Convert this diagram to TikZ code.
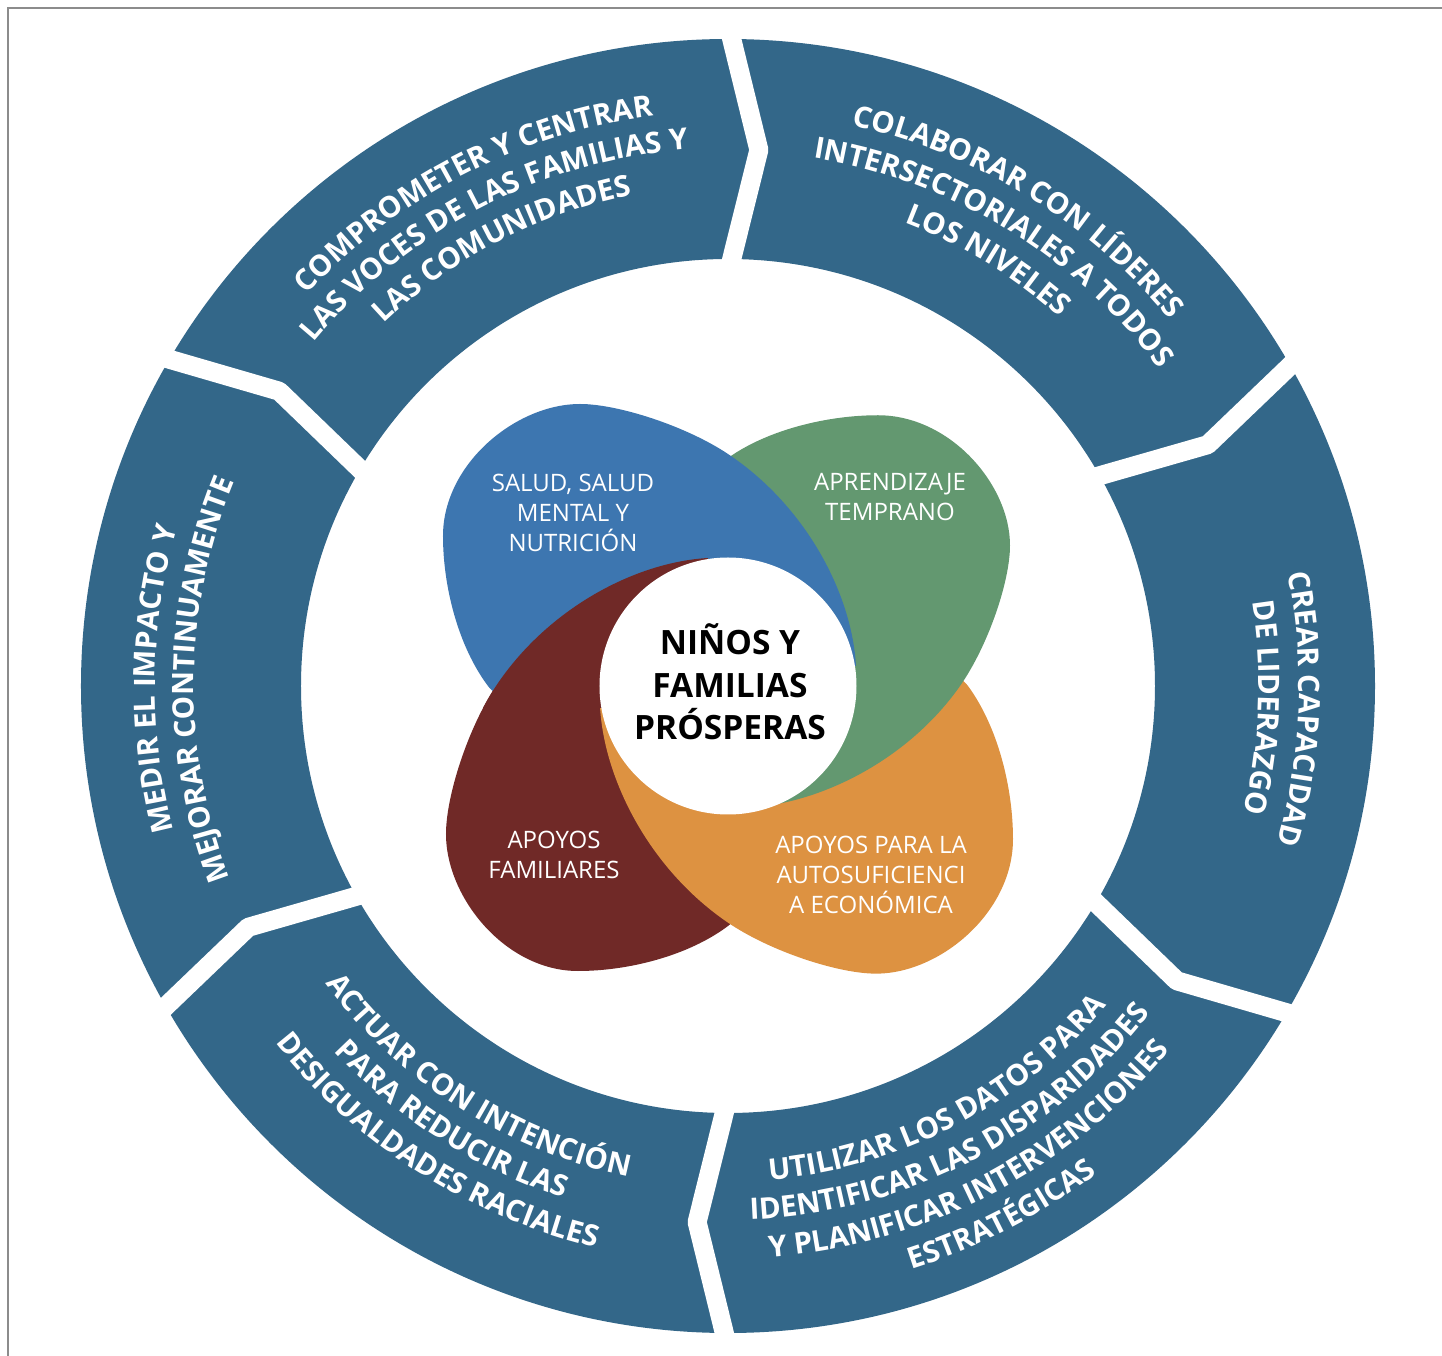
\documentclass[tikz,border=0pt]{standalone}
\usepackage{fontspec}
\setmainfont{Open Sans}
\newfontfamily\osans{Open Sans}
\usetikzlibrary{decorations.text}
\definecolor{ringc}{HTML}{336789}
\definecolor{pblue}{HTML}{3D76B0}
\definecolor{pgreen}{HTML}{639870}
\definecolor{porange}{HTML}{DD9241}
\definecolor{pred}{HTML}{702927}
\definecolor{framec}{HTML}{8C8C8C}
\newcommand\segfont{\osans\bfseries\fontsize{29.5pt}{30pt}\selectfont}
\newcommand\cwtext[3]{\path[decorate,decoration={text along path,text align=center,text color=white,text={|\segfont|#3}}] ({#1+45}:#2) arc[start angle={#1+45}, end angle={#1-45}, radius=#2];}
\newcommand\ccwtext[3]{\path[decorate,decoration={text along path,text align=center,text color=white,text={|\segfont|#3}}] ({#1-45}:#2) arc[start angle={#1-45}, end angle={#1+45}, radius=#2];}
\tikzset{
  petalshape/.style={insert path={(128,20) .. controls (124,92) and (78,180) .. (0,232)
     .. controls (-42,260) and (-110,282) .. (-148,282)
     .. controls (-212,282) and (-285,222) .. (-285,150)
     .. controls (-285,100) and (-270,40) .. (-240,0)
     .. controls (-222,-24) and (-160,-25) .. (-90,5)
     .. controls (-20,35) and (90,25) .. (128,20) -- cycle}},
  petallabel/.style={text=white, align=center, inner sep=0pt, anchor=base, font=\osans\fontsize{24pt}{30pt}\selectfont},
  gapline/.style={white, line width=19pt, line join=round}
}
\begin{document}
\begin{tikzpicture}[x=1pt,y=1pt]
\useasboundingbox (-728,-670) rectangle (714,686);
\fill[white] (-728,-670) rectangle (714,686);
\draw[framec, line width=1.2pt] (-720,-672) -- (-720,678) -- (716,678);
% ring
\fill[ringc, even odd rule] (0,0) circle[radius=647] (0,0) circle[radius=427];
\foreach \g in {90,30,-30,-90,-150,150}
  \draw[gapline] (\g:662) -- ({\g-3.3}:537) -- (\g:412);
% ring texts
\cwtext{117.3}{575}{COMPROMETER Y CENTRAR}
\cwtext{117.3}{538}{LAS VOCES DE LAS FAMILIAS Y}
\cwtext{117.3}{500}{LAS COMUNIDADES}
\cwtext{58.6}{574}{COLABORAR CON LÍDERES}
\cwtext{58.6}{535}{INTERSECTORIALES A TODOS}
\cwtext{58.6}{496}{LOS NIVELES}
\cwtext{-2.3}{571}{CREAR CAPACIDAD}
\cwtext{-2.3}{531}{DE LIDERAZGO}
\cwtext{179.3}{573}{MEDIR EL IMPACTO Y}
\cwtext{179.3}{534}{MEJORAR CONTINUAMENTE}
\ccwtext{-62.7}{495.5}{UTILIZAR LOS DATOS PARA}
\ccwtext{-62.7}{534}{IDENTIFICAR LAS DISPARIDADES}
\ccwtext{-62.7}{572.5}{Y PLANIFICAR INTERVENCIONES}
\ccwtext{-62.7}{611.5}{ESTRATÉGICAS}
\ccwtext{237.5}{500.5}{ACTUAR CON INTENCIÓN}
\ccwtext{237.5}{537.5}{PARA REDUCIR LAS}
\ccwtext{237.5}{576.5}{DESIGUALDADES RACIALES}
% petals
\fill[pred, rotate=90, petalshape];
\fill[porange, rotate=180, yscale=1.02, petalshape];
\fill[pgreen, rotate=-90, xscale=0.95, petalshape];
\fill[pblue, petalshape];
\begin{scope}
  \clip (-420,-22) rectangle (0,420);
  \fill[pred, rotate=90, petalshape];
\end{scope}
\fill[white] (0,0) circle[radius=128.5];
\node[petallabel] (health) at (-155,134) {SALUD, SALUD\\MENTAL Y\\NUTRICIÓN};
\node[petallabel] (early) at (162,165.4) {APRENDIZAJE\\TEMPRANO};
\node[petallabel] (family) at (-174,-193) {APOYOS\\FAMILIARES};
\node[petallabel] (econ) at (143,-227.4) {APOYOS PARA LA\\AUTOSUFICIENCI\\A ECONÓMICA};
\node[align=center, inner sep=0pt, anchor=base, font=\osans\bfseries\fontsize{33.5pt}{42.5pt}\selectfont] (core) at (2,-53.7) {NIÑOS Y\\FAMILIAS\\PRÓSPERAS};
\end{tikzpicture}
\end{document}
